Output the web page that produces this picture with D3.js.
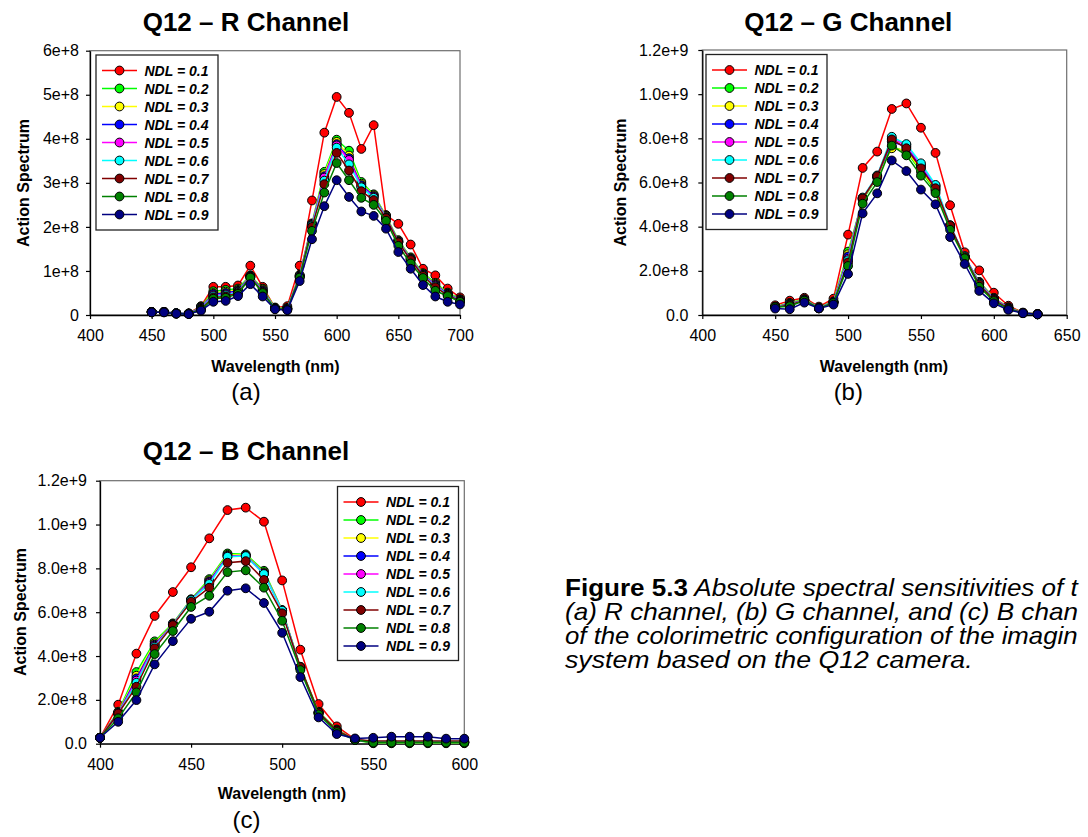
<!DOCTYPE html>
<html>
<head>
<meta charset="utf-8">
<script src="https://cdn.jsdelivr.net/npm/d3@7"></script>
<style>
  html, body { margin: 0; padding: 0; background: #fff; overflow: hidden; }
  svg { display: block; font-family: "Liberation Sans", Arial, sans-serif; }
</style>
</head>
<body>
<svg id="chart" width="1088" height="837"></svg>
<script>
// ---------------- DATA ----------------
const ndlLabels = ["NDL = 0.1","NDL = 0.2","NDL = 0.3","NDL = 0.4","NDL = 0.5","NDL = 0.6","NDL = 0.7","NDL = 0.8","NDL = 0.9"];
const ndlColors = ["#ff0000","#00ff00","#ffff00","#0000ff","#ff00ff","#00ffff","#800000","#008000","#000080"];

// R channel (values in units of 1e8)
const rWavelengths = [450,460,470,480,490,500,510,520,530,540,550,560,570,580,590,600,610,620,630,640,650,660,670,680,690,700];
const rSeries = [
  [.07,.07,.04,.04,.20,.64,.64,.67,1.12,.64,.17,.20,1.12,2.60,4.14,4.95,4.59,3.77,4.31,2.27,2.07,1.60,1.05,.90,.60,.40],
  [.07,.07,.04,.03,.19,.54,.57,.60,.90,.60,.16,.16,.91,2.08,3.25,3.98,3.73,3.02,2.74,2.25,1.70,1.31,.95,.73,.51,.36],
  [.07,.07,.04,.03,.18,.50,.53,.57,.89,.58,.16,.15,.90,2.07,3.20,3.93,3.62,2.98,2.72,2.24,1.68,1.29,.93,.71,.49,.35],
  [.07,.07,.04,.03,.17,.48,.50,.55,.88,.56,.15,.15,.89,2.05,3.15,3.88,3.56,2.95,2.70,2.22,1.67,1.28,.92,.69,.48,.34],
  [.07,.07,.04,.03,.16,.45,.47,.53,.87,.54,.15,.14,.88,2.04,3.12,3.85,3.52,2.92,2.68,2.21,1.66,1.27,.91,.67,.47,.33],
  [.07,.07,.04,.03,.15,.43,.45,.52,.86,.53,.15,.14,.87,2.03,3.05,3.80,3.42,2.90,2.66,2.20,1.65,1.26,.90,.65,.46,.32],
  [.07,.07,.03,.03,.14,.40,.42,.50,.86,.52,.14,.13,.86,2.00,2.97,3.68,3.28,2.81,2.61,2.20,1.65,1.25,.89,.63,.45,.32],
  [.06,.06,.03,.03,.12,.37,.39,.48,.85,.50,.14,.12,.85,1.91,2.78,3.45,3.06,2.66,2.50,2.14,1.57,1.17,.84,.55,.43,.30],
  [.06,.06,.03,.02,.10,.30,.32,.43,.70,.42,.13,.11,.77,1.72,2.47,3.06,2.68,2.35,2.25,1.96,1.43,1.05,.68,.42,.30,.24]
];

// G channel (values in units of 1e8)
const gWavelengths = [450,460,470,480,490,500,510,520,530,540,550,560,570,580,590,600,610,620,630];
const gSeries = [
  [.44,.65,.78,.38,.74,3.64,6.66,7.40,9.33,9.58,8.48,7.34,4.97,2.84,2.02,1.01,.42,.11,.05],
  [.38,.55,.72,.33,.62,2.87,5.22,6.22,7.62,7.40,6.50,5.62,3.98,2.62,1.50,.78,.35,.10,.04],
  [.37,.52,.70,.32,.60,2.75,5.25,6.25,7.55,7.45,6.58,5.68,4.00,2.63,1.48,.76,.34,.10,.04],
  [.37,.50,.69,.32,.59,2.65,5.28,6.28,7.85,7.62,6.72,5.80,4.03,2.65,1.46,.74,.33,.09,.04],
  [.36,.48,.68,.31,.58,2.55,5.30,6.30,7.98,7.70,6.80,5.85,4.05,2.66,1.44,.72,.32,.09,.03],
  [.36,.47,.67,.31,.57,2.48,5.32,6.32,8.07,7.74,6.87,5.89,4.07,2.66,1.42,.70,.31,.09,.03],
  [.35,.45,.66,.30,.56,2.38,5.28,6.29,7.95,7.55,6.64,5.74,4.05,2.62,1.38,.68,.30,.09,.03],
  [.35,.40,.65,.30,.55,2.22,5.04,6.02,7.67,7.23,6.31,5.52,3.86,2.57,1.28,.63,.27,.08,.03],
  [.29,.26,.56,.30,.47,1.86,4.60,5.51,7.00,6.52,5.68,5.01,3.53,2.31,1.09,.53,.23,.08,.03]
];

// B channel (values in units of 1e8)
const bWavelengths = [400,410,420,430,440,450,460,470,480,490,500,510,520,530,540,550,560,570,580,590,600];
const bSeries = [
  [.27,1.78,4.11,5.83,6.92,8.05,9.37,10.66,10.77,10.13,7.45,4.29,1.81,.79,.20,.08,.06,.06,.06,.05,.05],
  [.27,1.46,3.27,4.67,5.49,6.59,7.51,8.68,8.64,7.89,6.10,3.51,1.46,.65,.17,.02,.02,.02,.02,.02,.02],
  [.27,1.42,3.10,4.58,5.46,6.57,7.45,8.62,8.60,7.82,6.08,3.48,1.43,.62,.18,.04,.04,.04,.04,.04,.04],
  [.27,1.40,2.98,4.52,5.44,6.56,7.40,8.58,8.58,7.78,6.07,3.46,1.41,.60,.18,.06,.06,.06,.06,.06,.06],
  [.27,1.38,2.88,4.47,5.43,6.55,7.35,8.55,8.57,7.76,6.07,3.45,1.40,.58,.19,.08,.08,.08,.08,.08,.08],
  [.27,1.36,2.78,4.42,5.42,6.55,7.29,8.53,8.56,7.74,6.07,3.44,1.39,.57,.19,.10,.10,.10,.10,.10,.10],
  [.27,1.38,2.60,4.35,5.41,6.48,7.12,8.26,8.33,7.47,5.95,3.50,1.42,.60,.19,.12,.12,.12,.12,.12,.12],
  [.27,1.16,2.34,4.09,5.14,6.24,6.75,7.83,7.91,7.12,5.61,3.36,1.34,.53,.17,.05,.05,.05,.05,.05,.05],
  [.27,1.00,1.99,3.62,4.68,5.70,6.02,6.98,7.09,6.42,5.06,3.04,1.20,.44,.24,.27,.32,.32,.32,.23,.23]
];
const valueUnit = 1e8;

// Tick values and labels
const rXTicks = [400,450,500,550,600,650,700];
const rYTicks = [0,1e8,2e8,3e8,4e8,5e8,6e8];
const rYTickLabels = ["0","1e+8","2e+8","3e+8","4e+8","5e+8","6e+8"];
const gXTicks = [400,450,500,550,600,650];
const bXTicks = [400,450,500,550,600];
const gbYTicks = [0,2e8,4e8,6e8,8e8,1e9,1.2e9];
const gbYTickLabels = ["0.0","2.0e+8","4.0e+8","6.0e+8","8.0e+8","1.0e+9","1.2e+9"];

const titles = ["Q12 \u2013 R Channel","Q12 \u2013 G Channel","Q12 \u2013 B Channel"];
const subLabels = ["(a)","(b)","(c)"];
const xAxisTitle = "Wavelength (nm)";
const yAxisTitle = "Action Spectrum";
// caption as visible in the reference (it runs past the page's right edge there)
const captionBold = "Figure 5.3";
const captionLines = [
  " Absolute spectral sensitivities of t",
  "(a) R channel, (b) G channel, and (c) B chan",
  "of the colorimetric configuration of the imagin",
  "system based on the Q12 camera."
];

// ---------------- DRAW ----------------
const svg = d3.select("#chart");

function drawPanel(p) {
  const g = svg.append("g");
  const x = d3.scaleLinear().domain(p.xDomain).range([p.left, p.right]);
  const y = d3.scaleLinear().domain(p.yDomain).range([p.bottom, p.top]);

  g.append("rect")
    .attr("x", p.left).attr("y", p.top)
    .attr("width", p.right - p.left).attr("height", p.bottom - p.top)
    .attr("fill", "none").attr("stroke", "#6e6e6e").attr("stroke-width", 1.2);

  const xa = g.append("g").attr("transform", `translate(0,${p.bottom})`)
    .call(d3.axisBottom(x).tickValues(p.xTicks).tickSize(4).tickSizeOuter(0)
      .tickPadding(p.xPad).tickFormat(d3.format("d")));
  const ya = g.append("g").attr("transform", `translate(${p.left},0)`)
    .call(d3.axisLeft(y).tickValues(p.yTicks).tickSize(4).tickSizeOuter(0)
      .tickPadding(p.yPad).tickFormat((d, i) => p.yTickLabels[i]));
  [xa, ya].forEach(a => {
    a.select(".domain").attr("stroke", "#000").attr("stroke-width", 1.3);
    a.selectAll(".tick line").attr("stroke", "#000").attr("stroke-width", 1.2);
    a.selectAll(".tick text").attr("font-size", 16).attr("fill", "#000")
      .attr("font-family", "Liberation Sans, Arial, sans-serif");
  });

  const line = d3.line().x((d, j) => x(p.wl[j])).y(d => y(d * valueUnit));
  p.series.forEach((vals, i) => {
    g.append("path").datum(vals).attr("d", line)
      .attr("fill", "none").attr("stroke", ndlColors[i]).attr("stroke-width", 1.5);
    g.selectAll(null).data(vals).enter().append("circle")
      .attr("cx", (d, j) => x(p.wl[j])).attr("cy", d => y(d * valueUnit))
      .attr("r", 4.4).attr("fill", ndlColors[i])
      .attr("stroke", "#000").attr("stroke-width", 1);
  });

  const L = p.legend;
  g.append("rect").attr("x", L.x).attr("y", L.y).attr("width", L.w).attr("height", L.h)
    .attr("fill", "#fff").attr("stroke", "#222").attr("stroke-width", 1.3);
  ndlLabels.forEach((lab, i) => {
    const cy = L.y + 15.5 + i * 18;
    g.append("line").attr("x1", L.x + 6).attr("x2", L.x + 41).attr("y1", cy).attr("y2", cy)
      .attr("stroke", ndlColors[i]).attr("stroke-width", 1.5);
    g.append("circle").attr("cx", L.x + 23.5).attr("cy", cy).attr("r", 4.4)
      .attr("fill", ndlColors[i]).attr("stroke", "#000").attr("stroke-width", 1);
    g.append("text").attr("x", L.x + 48.5).attr("y", cy + 5)
      .attr("font-size", 14).attr("font-weight", "bold").attr("font-style", "italic")
      .text(lab);
  });

  g.append("text").attr("x", p.titleX).attr("y", p.titleY).attr("text-anchor", "middle")
    .attr("font-size", 26).attr("font-weight", "bold").text(p.title);
  g.append("text").attr("x", p.xTitleX).attr("y", p.xTitleY).attr("text-anchor", "middle")
    .attr("font-size", 16).attr("font-weight", "bold").text(xAxisTitle);
  g.append("text").attr("transform", `translate(${p.yTitleX},${p.yTitleY}) rotate(-90)`)
    .attr("text-anchor", "middle")
    .attr("font-size", 16).attr("font-weight", "bold").text(yAxisTitle);
  g.append("text").attr("x", p.subX).attr("y", p.subY).attr("text-anchor", "middle")
    .attr("font-size", 24).text(p.sub);
}

drawPanel({
  wl: rWavelengths, series: rSeries, xDomain: [400, 700], yDomain: [0, 6e8],
  xTicks: rXTicks, yTicks: rYTicks, yTickLabels: rYTickLabels,
  left: 90, right: 460, top: 50.7, bottom: 315, xPad: 11, yPad: 7,
  legend: { x: 96, y: 55, w: 122, h: 175 },
  title: titles[0], titleX: 246, titleY: 31,
  xTitleX: 275.5, xTitleY: 371.5, yTitleX: 29, yTitleY: 183,
  sub: subLabels[0], subX: 246, subY: 400
});
drawPanel({
  wl: gWavelengths, series: gSeries, xDomain: [400, 650], yDomain: [0, 1.2e9],
  xTicks: gXTicks, yTicks: gbYTicks, yTickLabels: gbYTickLabels,
  left: 702.3, right: 1066.7, top: 50, bottom: 315, xPad: 11, yPad: 10,
  legend: { x: 706, y: 54.5, w: 121, h: 175 },
  title: titles[1], titleX: 848.3, titleY: 31,
  xTitleX: 884, xTitleY: 371.5, yTitleX: 626, yTitleY: 182.5,
  sub: subLabels[1], subX: 848.3, subY: 400
});
drawPanel({
  wl: bWavelengths, series: bSeries, xDomain: [400, 600], yDomain: [0, 1.2e9],
  xTicks: bXTicks, yTicks: gbYTicks, yTickLabels: gbYTickLabels,
  left: 100, right: 464.3, top: 480.7, bottom: 743.7, xPad: 11, yPad: 9,
  legend: { x: 337.5, y: 486.5, w: 121, h: 174 },
  title: titles[2], titleX: 246, titleY: 459.5,
  xTitleX: 282, xTitleY: 799, yTitleX: 26, yTitleY: 612,
  sub: subLabels[2], subX: 246.5, subY: 828
});

// caption: each line gets its own horizontal stretch so that it ends before the page edge
const capX = 565, capScale = 1.16, maxRight = 1078, capFont = 23;
captionLines.forEach((ln, i) => {
  const gl = svg.append("g");
  const t = gl.append("text").attr("x", 0).attr("y", 596.5 + i * 23.8)
    .attr("font-size", capFont).attr("fill", "#000");
  if (i === 0) t.append("tspan").attr("font-weight", "bold").text(captionBold);
  t.append("tspan").attr("font-style", "italic").text(ln);
  const w = t.node().getComputedTextLength();
  const sx = Math.min(capScale, (maxRight - capX) / w);
  gl.attr("transform", `translate(${capX},0) scale(${sx},1)`);
});
</script>
</body>
</html>
